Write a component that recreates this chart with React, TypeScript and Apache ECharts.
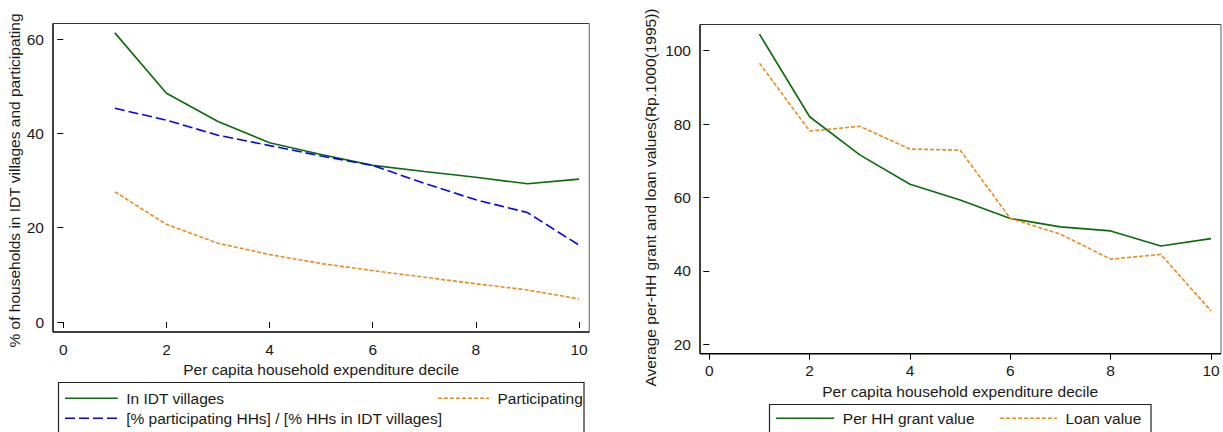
import React, { useEffect, useRef } from "react";
import * as echarts from "echarts";

const deciles = [1, 2, 3, 4, 5, 6, 7, 8, 9, 10];
const inIdtVillages = [61.3, 48.5, 42.5, 38.0, 35.5, 33.2, 31.9, 30.7, 29.3, 30.3];
const participating = [27.6, 20.7, 16.7, 14.3, 12.4, 10.9, 9.5, 8.1, 6.8, 4.9];
const ratioShare = [45.3, 42.8, 39.6, 37.4, 35.2, 33.2, 29.4, 25.9, 23.2, 16.3];
const grantValue = [104.5, 82.0, 71.6, 63.6, 59.3, 54.3, 52.0, 50.9, 46.8, 48.8];
const loanValue = [96.6, 78.1, 79.4, 73.2, 72.9, 54.3, 50.0, 43.2, 44.5, 29.1];

const leftLabels = {
  x: "Per capita household expenditure decile",
  y: "% of households in IDT villages and participating",
  s1: "In IDT villages",
  s2: "Participating",
  s3: "[% participating HHs] / [% HHs in IDT villages]",
};
const rightLabels = {
  x: "Per capita household expenditure decile",
  y: "Average per-HH grant and loan values(Rp.1000(1995))",
  s1: "Per HH grant value",
  s2: "Loan value",
};

const FONT = "'Liberation Sans', Arial, Helvetica, sans-serif";
const FS = 15.5;
const TXT = "#1a1a1a";
const GREEN = "#0b6b0b";
const BLUE = "#0000ff";
const ORANGE = "#f08a1c";

const pairs = (ys: number[]) => deciles.map((d, i) => [d, ys[i]]);

function xAxisCfg(gridIndex: number, offset: number, nameGap: number) {
  return {
    gridIndex,
    type: "value" as const,
    min: 0,
    max: 10,
    interval: 2,
    offset,
    name: gridIndex === 0 ? leftLabels.x : rightLabels.x,
    nameLocation: "middle" as const,
    nameGap,
    nameTextStyle: { fontSize: FS, color: TXT, fontFamily: FONT },
    axisLine: { show: false },
    axisTick: { show: true, length: 6, lineStyle: { color: "#000", width: 1 } },
    axisLabel: { fontSize: FS, color: TXT, fontFamily: FONT, margin: 9 },
    splitLine: { show: false },
  };
}

function yAxisCfg(gridIndex: number, min: number, max: number, offset: number, nameGap: number) {
  return {
    gridIndex,
    type: "value" as const,
    min,
    max,
    interval: 20,
    offset,
    name: gridIndex === 0 ? leftLabels.y : rightLabels.y,
    nameLocation: "middle" as const,
    nameGap,
    nameTextStyle: { fontSize: FS, color: TXT, fontFamily: FONT },
    axisLine: { show: false },
    axisTick: { show: true, length: 6, lineStyle: { color: "#000", width: 1 } },
    axisLabel: { fontSize: FS, color: TXT, fontFamily: FONT, margin: 9 },
    splitLine: { show: false },
  };
}

function frame(l: number, t: number, r: number, b: number) {
  return [
    { type: "line", shape: { x1: l, y1: t, x2: r, y2: t }, style: { stroke: "#333", lineWidth: 1.2 } },
    { type: "line", shape: { x1: r, y1: t, x2: r, y2: b }, style: { stroke: "#777", lineWidth: 1.2 } },
    { type: "line", shape: { x1: l, y1: t, x2: l, y2: b }, style: { stroke: "#000", lineWidth: 1.5 } },
    { type: "line", shape: { x1: l, y1: b, x2: r, y2: b }, style: { stroke: "#000", lineWidth: 1.5 } },
  ];
}

function legendKey(x1: number, x2: number, y: number, color: string, dash: number[] | null, text: string) {
  return [
    {
      type: "line",
      shape: { x1, y1: y, x2, y2: y },
      style: { stroke: color, lineWidth: 1.6, lineDash: dash || undefined },
    },
    {
      type: "text",
      x: x2 + 8.5,
      y,
      style: { text, fontSize: FS, fill: TXT, fontFamily: FONT, textVerticalAlign: "middle", textAlign: "left" },
    },
  ];
}

export default function App() {
  const ref = useRef<HTMLDivElement>(null);
  useEffect(() => {
    if (!ref.current) return;
    const chart = echarts.init(ref.current, undefined, { renderer: "svg" });
    const option = {
      animation: false,
      backgroundColor: "#fff",
      grid: [
        { left: 63.3, top: 39, width: 515.7, height: 283 },
        { left: 709.3, top: 50.7, width: 501.7, height: 293.6 },
      ],
      xAxis: [xAxisCfg(0, 10, 19), xAxisCfg(1, 9.4, 19)],
      yAxis: [yAxisCfg(0, 0, 60, 10.3, 26), yAxisCfg(1, 20, 100, 9.3, 42)],
      series: [
        {
          name: leftLabels.s1, type: "line", xAxisIndex: 0, yAxisIndex: 0, data: pairs(inIdtVillages),
          symbol: "none", clip: false, lineStyle: { color: GREEN, width: 1.6 },
        },
        {
          name: leftLabels.s2, type: "line", xAxisIndex: 0, yAxisIndex: 0, data: pairs(participating),
          symbol: "none", clip: false, lineStyle: { color: ORANGE, width: 1.6, type: [4, 2] },
        },
        {
          name: leftLabels.s3, type: "line", xAxisIndex: 0, yAxisIndex: 0, data: pairs(ratioShare),
          symbol: "none", clip: false, lineStyle: { color: BLUE, width: 1.6, type: [10, 4] },
        },
        {
          name: rightLabels.s1, type: "line", xAxisIndex: 1, yAxisIndex: 1, data: pairs(grantValue),
          symbol: "none", clip: false, lineStyle: { color: GREEN, width: 1.6 },
        },
        {
          name: rightLabels.s2, type: "line", xAxisIndex: 1, yAxisIndex: 1, data: pairs(loanValue),
          symbol: "none", clip: false, lineStyle: { color: ORANGE, width: 1.6, type: [4, 2] },
        },
      ],
      graphic: [
        ...frame(53, 23.5, 589.3, 332),
        ...frame(700, 24.5, 1221, 353.7),
        { type: "rect", shape: { x: 58.5, y: 382.5, width: 525.5, height: 70 }, style: { fill: "none", stroke: "#222", lineWidth: 1.2 } },
        ...legendKey(65, 117.7, 398.3, GREEN, null, leftLabels.s1),
        ...legendKey(438, 489, 398.3, ORANGE, [4, 2], leftLabels.s2),
        ...legendKey(65, 117.7, 418.3, BLUE, [10, 4], leftLabels.s3),
        { type: "rect", shape: { x: 769.5, y: 404.5, width: 381.5, height: 50 }, style: { fill: "none", stroke: "#222", lineWidth: 1.2 } },
        ...legendKey(776, 834.3, 418.3, GREEN, null, rightLabels.s1),
        ...legendKey(1000, 1057, 418.3, ORANGE, [4, 2], rightLabels.s2),
      ],
    };
    chart.setOption(option as any);
    return () => chart.dispose();
  }, []);
  return (
    <div
      ref={ref}
      style={{ position: "absolute", left: 0, top: 0, width: 1223, height: 432, background: "#fff" }}
    />
  );
}
